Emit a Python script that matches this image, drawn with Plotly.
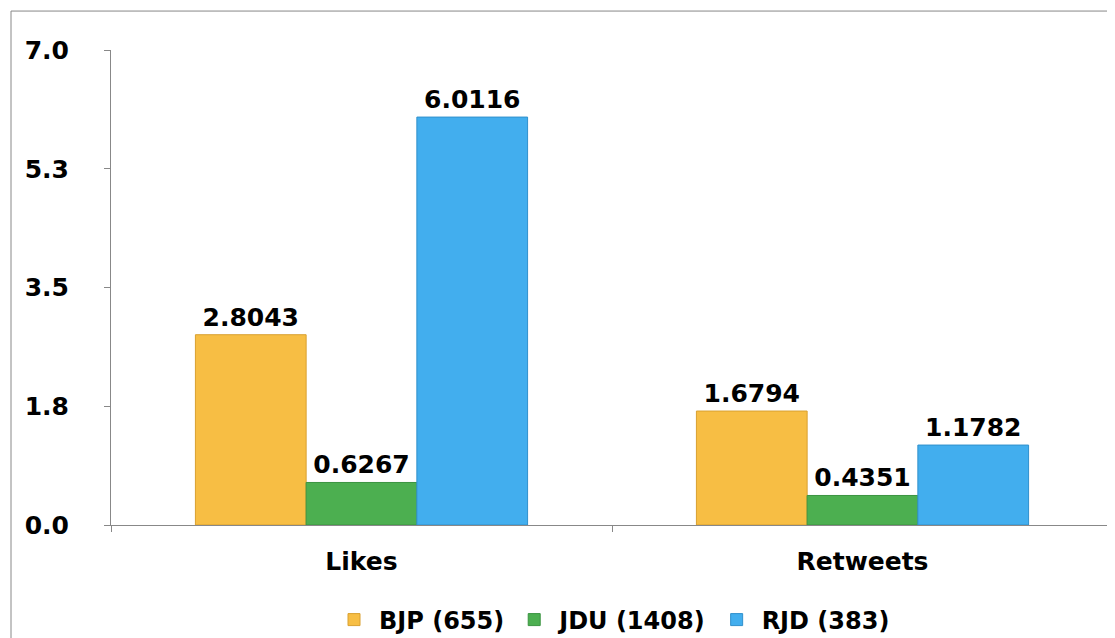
import plotly.graph_objects as go

categories = ["Likes", "Retweets"]
series = ["BJP (655)", "JDU (1408)", "RJD (383)"]
bjp = [2.8043, 1.6794]
jdu = [0.6267, 0.4351]
rjd = [6.0116, 1.1782]
ytick_vals = [0, 1.75, 3.5, 5.25, 7]
ytick_text = ["0.0", "1.8", "3.5", "5.3", "7.0"]

colors = ["#F7BE44", "#4CAF50", "#42AEEE"]
lines = ["#D9A030", "#3A9440", "#3090CC"]
F = "DejaVu Sans"

fig = go.Figure()
for name, vals, c, lc in zip(series, [bjp, jdu, rjd], colors, lines):
    fig.add_trace(go.Bar(
        x=categories, y=vals, name=name, marker=dict(color=c, line=dict(color=lc, width=1)),
        text=[f"{v:.4f}" for v in vals], textposition="outside", cliponaxis=False,
        textfont=dict(family=F, size=25, color="black", weight="bold"),
    ))

fig.update_layout(
    width=1115, height=638, barmode="group", bargap=0.337, bargroupgap=0,
    plot_bgcolor="white", paper_bgcolor="white",
    margin=dict(l=103, r=10, t=42, b=121, autoexpand=False),
    font=dict(family=F, size=24, color="black", weight="bold"),
    showlegend=True,
    legend=dict(orientation="h", x=0.5, xanchor="center", y=-0.2, yanchor="middle",
                bgcolor="rgba(0,0,0,0)",
                font=dict(family=F, size=24, weight="bold"), itemwidth=40),
    xaxis=dict(showline=True, linecolor="#888", ticks="outside", tickson="boundaries",
               ticklen=6, tickcolor="#888", ticklabelstandoff=14, automargin=False,
               tickfont=dict(size=25, weight="bold")),
    yaxis=dict(range=[0, 7], tickvals=ytick_vals, ticktext=ytick_text, showgrid=False,
               showline=True, linecolor="#888", ticks="outside", ticklen=6, tickcolor="#888",
               zeroline=False, automargin=False, ticklabelstandoff=30,
               tickfont=dict(size=25, weight="bold")),
    shapes=[dict(type="rect", xref="paper", yref="paper", x0=-0.0998, x1=1.005,
                 y0=-0.244, y1=1.082, line=dict(color="#888", width=1))],
)
fig.write_html("out.html")
